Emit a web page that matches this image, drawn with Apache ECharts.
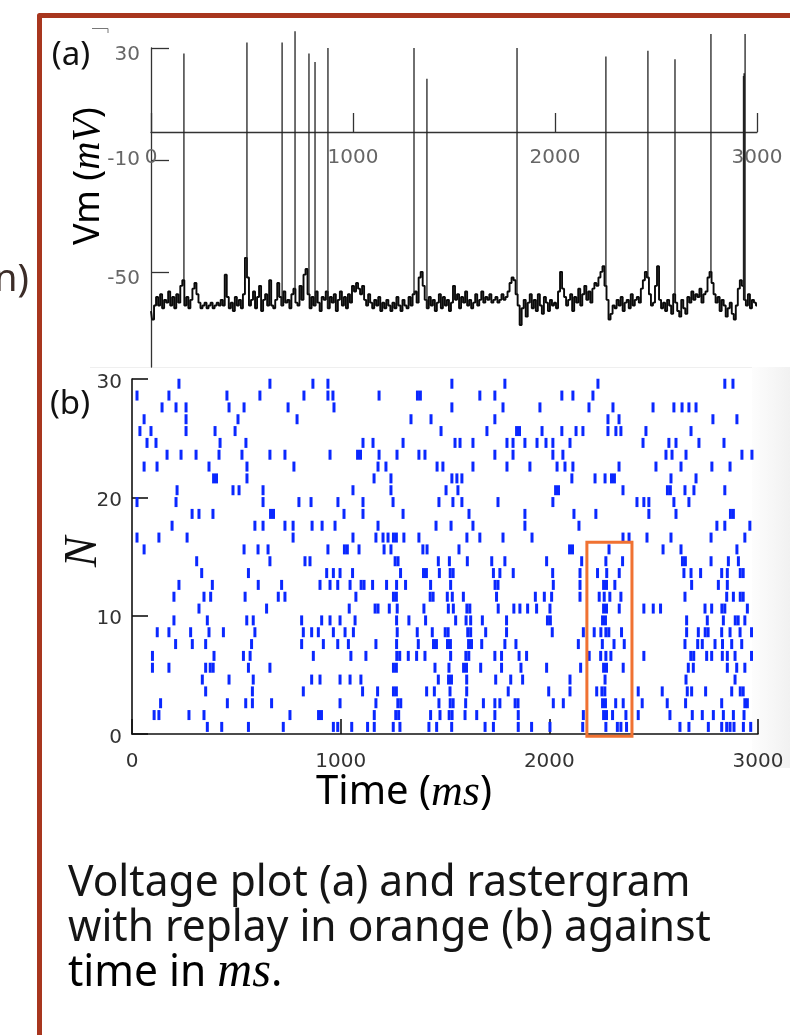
<!DOCTYPE html>
<html>
<head>
<meta charset="utf-8">
<script src="https://cdn.jsdelivr.net/npm/echarts@6/dist/echarts.min.js"></script>
<style>
  html, body { margin: 0; padding: 0; background: #fff; }
  #chart { width: 790px; height: 1035px; }
</style>
</head>
<body>
<div id="chart"></div>
<script>
// (a) membrane potential, one sample every 10 ms from 0 to 3000 ms
const vmStepMs = 10;
const vmBase = [
  -64, -67, -62, -59, -62, -58, -63, -60, -61, -57,
  -62, -59, -63, -58, -61, -55, -53, -62, -59, -63,
  -60, -56, -54, -58, -61, -63, -62, -61, -63, -62,
  -61, -63, -62, -61, -62, -60, -62, -51, -59, -63,
  -61, -64, -59, -62, -60, -63, -58, -45, -52, -62,
  -60, -57, -63, -59, -55, -64, -60, -58, -62, -53,
  -62, -63, -60, -54, -59, -62, -57, -61, -60, -63,
  -58, -56, -61, -62, -55, -60, -51, -49, -58, -63,
  -59, -62, -57, -61, -64, -59, -60, -57, -63, -59,
  -61, -58, -64, -60, -57, -62, -59, -63, -58, -61,
  -55, -57, -54, -56, -58, -55, -60, -62, -58, -61,
  -63, -60, -62, -59, -64, -61, -63, -60, -62, -64,
  -61, -63, -59, -62, -64, -60, -62, -63, -59, -62,
  -58, -57, -61, -52, -50, -55, -60, -63, -59, -62,
  -60, -64, -61, -58, -63, -59, -62, -60, -64, -61,
  -55, -60, -58, -63, -59, -61, -57, -62, -60, -63,
  -61, -58, -62, -60, -57, -61, -59, -60, -58, -61,
  -60, -59, -61, -60, -58, -60, -59, -57, -54, -52,
  -53, -58, -62, -69, -63, -60, -66, -61, -58, -63,
  -60, -64, -58, -62, -65, -59, -61, -64, -60, -62,
  -61, -63, -57, -50, -56, -59, -62, -60, -58, -64,
  -59, -61, -56, -62, -58, -55, -60, -57, -61, -56,
  -54, -55, -52, -50, -48, -55, -60, -67, -65, -62,
  -63, -60, -62, -59, -64, -61, -60, -63, -58, -62,
  -60, -59, -61, -56, -53, -50, -52, -58, -62, -61,
  -55, -48, -60, -63, -61, -64, -60, -62, -65, -58,
  -61, -64, -66, -60, -63, -65, -59, -61, -57, -60,
  -58, -59, -56, -61, -58, -57, -52, -50, -54, -58,
  -61, -59, -64, -60, -62, -66, -63, -61, -65, -67,
  -62, -56, -53, -55, -60, -62, -58, -63, -60, -61,
  -62
];
const spikeTimes = [163, 475, 649, 713, 782, 812, 876, 1302, 1366, 1812, 2252, 2460, 2594, 2772, 2933, 2936, 2941];
const spikePeaks = [28, 32, 32, 36, 28, 25, 30, 30, 19, 30, 27, 29, 26, 35, 20, 21, 35];
const vmTicks = [30, -10, -50];

// (b) spike times (ms) of neurons 1..30
const rasterRows = [
  [361, 430, 558, 725, 965, 986, 1053, 1129, 1161, 1252, 1284, 1423, 1460, 1532, 1692, 1732, 1851, 1915, 2003, 2160, 2271, 2326, 2343, 2370, 2626, 2669, 2762, 2826, 2850, 2866, 2885, 2930, 2965],
  [106, 129, 273, 345, 757, 894, 908, 1161, 1264, 1278, 1431, 1476, 1520, 1534, 1596, 1652, 1739, 1851, 2163, 2260, 2274, 2303, 2367, 2426, 2578, 2685, 2733, 2786, 2834, 2882, 2933],
  [137, 457, 545, 577, 669, 997, 1169, 1274, 1288, 1471, 1525, 1539, 1599, 1684, 1739, 1763, 1836, 1850, 2019, 2067, 2255, 2269, 2318, 2354, 2445, 2565, 2653, 2826, 2937, 2949],
  [353, 577, 821, 1105, 1177, 1253, 1267, 1412, 1449, 1524, 1604, 1803, 1997, 2099, 2227, 2252, 2266, 2426, 2541, 2661, 2682, 2749, 2874, 2915, 2929],
  [337, 465, 581, 861, 901, 997, 1045, 1097, 1468, 1517, 1531, 1604, 1743, 1815, 1872, 2099, 2267, 2655, 2890],
  [98, 177, 353, 375, 389, 558, 661, 1253, 1267, 1452, 1519, 1589, 1603, 1671, 1771, 1864, 1987, 2150, 2260, 2274, 2354, 2666, 2690, 2853, 2898, 2937],
  [98, 393, 534, 566, 869, 1049, 1121, 1269, 1283, 1324, 1364, 1404, 1527, 1600, 1614, 1739, 1771, 1855, 1891, 2191, 2246, 2271, 2295, 2453, 2678, 2692, 2754, 2778, 2829, 2853, 2890, 2969],
  [209, 289, 353, 573, 813, 917, 986, 1037, 1169, 1268, 1372, 1445, 1459, 1512, 1526, 1613, 1627, 1676, 1787, 1840, 2139, 2254, 2310, 2359, 2650, 2711, 2733, 2794, 2830, 2874, 2922],
  [121, 177, 281, 369, 438, 589, 821, 861, 893, 965, 1021, 1061, 1271, 1367, 1439, 1501, 1515, 1609, 1623, 1695, 1795, 2014, 2163, 2215, 2247, 2271, 2285, 2346, 2658, 2714, 2747, 2761, 2826, 2866, 2914, 2969],
  [201, 361, 550, 581, 813, 909, 949, 997, 1069, 1268, 1327, 1407, 1551, 1601, 1623, 1679, 1795, 1991, 2005, 2255, 2269, 2658, 2757, 2834, 2891, 2905, 2937],
  [321, 645, 1041, 1165, 1179, 1233, 1271, 1399, 1516, 1540, 1605, 1619, 1755, 1830, 1859, 1896, 1939, 2003, 2260, 2274, 2335, 2453, 2498, 2533, 2746, 2778, 2827, 2841, 2949],
  [201, 345, 377, 542, 701, 733, 1073, 1253, 1267, 1429, 1443, 1511, 1535, 1588, 1747, 1933, 1976, 2011, 2147, 2239, 2263, 2290, 2343, 2650, 2850, 2882, 2915, 2929],
  [225, 385, 605, 717, 901, 949, 986, 1045, 1098, 1112, 1153, 1220, 1268, 1311, 1431, 1527, 1740, 1754, 2019, 2147, 2260, 2274, 2314, 2682, 2810, 2853],
  [334, 558, 933, 965, 997, 1057, 1287, 1397, 1411, 1473, 1525, 1539, 1732, 1763, 1827, 2016, 2147, 2231, 2275, 2335, 2645, 2679, 2725, 2826, 2853, 2915, 2929],
  [310, 661, 829, 853, 1261, 1275, 1468, 1521, 1607, 1724, 1787, 1987, 2155, 2271, 2351, 2638, 2652, 2775, 2858, 2906],
  [58, 537, 604, 652, 939, 1018, 1032, 1088, 1208, 1241, 1394, 1414, 1567, 2097, 2111, 2286, 2545, 2631, 2899],
  [24, 129, 264, 772, 1059, 1169, 1203, 1227, 1253, 1267, 1303, 1375, 1605, 1667, 1778, 1917, 2353, 2382, 2468, 2583, 2775, 2937],
  [192, 589, 628, 733, 772, 863, 911, 973, 1179, 1457, 1529, 1634, 1883, 2142, 2803, 2841, 2961],
  [288, 321, 388, 664, 678, 1016, 1107, 1299, 1615, 1883, 2118, 2223, 2477, 2607, 2868, 2882],
  [24, 211, 628, 800, 858, 987, 1107, 1251, 1471, 1538, 1581, 1754, 2017, 2420, 2453, 2477, 2597, 2669],
  [216, 484, 513, 628, 1059, 1241, 1505, 1562, 2030, 2044, 2353, 2566, 2580, 2650, 2693, 2841],
  [391, 405, 551, 1160, 1241, 1533, 1557, 1581, 2108, 2219, 2267, 2298, 2312, 2583, 2703],
  [58, 120, 369, 551, 776, 1179, 1217, 1462, 1490, 1634, 1797, 1907, 2037, 2075, 2113, 2334, 2511, 2631, 2779, 2866],
  [168, 235, 307, 417, 527, 661, 733, 949, 1081, 1095, 1184, 1270, 1375, 1404, 1739, 1826, 2017, 2065, 2559, 2588, 2655, 2923, 2971],
  [72, 115, 422, 546, 1107, 1155, 1299, 1548, 1572, 1634, 1797, 1826, 1883, 1941, 1984, 2017, 2099, 2449, 2573, 2607, 2717, 2837],
  [38, 91, 259, 398, 494, 1481, 1701, 1843, 1857, 1965, 2060, 2128, 2161, 2281, 2319, 2343, 2463, 2679],
  [58, 259, 508, 791, 1337, 1433, 1739, 2281, 2334, 2784, 2899],
  [144, 211, 259, 465, 537, 748, 968, 1533, 1778, 1955, 2190, 2305, 2497, 2597, 2636, 2669, 2703],
  [24, 177, 455, 613, 824, 939, 963, 1184, 1368, 1382, 1667, 1739, 2060, 2113, 2209],
  [225, 661, 867, 939, 1533, 1787, 2233, 2841, 2880]
];
// replay window drawn in orange
const replayTime = [2180, 2396];
const replayNeurons = [-0.2, 16.2];

const vmPoints = vmBase.map((v, i) => [i * vmStepMs, v]);
const spikeLines = [];
spikeTimes.forEach((t, k) => {
  const base = vmBase[Math.round(t / vmStepMs)];
  spikeLines.push([t, base], [t, spikePeaks[k]], [t, null]);
});

const rasterPoints = [];
rasterRows.forEach((row, i) => {
  row.forEach(t => rasterPoints.push([t, i + 1 - 0.4]));
});

const tickFont = 'DejaVu Sans';
const sans = '"Noto Sans", sans-serif';
const serif = '"Liberation Serif", serif';
const plain = v => String(v);

const chart = echarts.init(document.getElementById('chart'), null, { renderer: 'canvas' });

const option = {
  animation: false,
  backgroundColor: '#fff',
  grid: [
    { left: 151, top: 48, width: 606, height: 319 },
    { left: 132, top: 379, width: 626, height: 355 }
  ],
  xAxis: [
    {
      // sits on Vm = 0
      gridIndex: 0, type: 'value', min: 0, max: 3000, interval: 1000, offset: -235,
      axisLine: { show: true, onZero: false, lineStyle: { color: '#333', width: 1.3 } },
      axisTick: { show: true, inside: true, length: 19, lineStyle: { color: '#333', width: 1.3 } },
      axisLabel: { show: true, margin: 16, fontSize: 20, fontFamily: tickFont, color: '#666', formatter: plain },
      splitLine: { show: false }
    },
    {
      gridIndex: 1, type: 'value', min: 0, max: 3000, interval: 1000,
      axisLine: { show: true, onZero: false, lineStyle: { color: '#111', width: 1.6 } },
      axisTick: { show: true, inside: true, length: 15, lineStyle: { color: '#111', width: 1.6 } },
      axisLabel: { show: true, margin: 18, fontSize: 20, fontFamily: tickFont, color: '#333', formatter: plain },
      splitLine: { show: false }
    }
  ],
  yAxis: [
    {
      gridIndex: 0, type: 'value', min: -84, max: 30,
      axisLine: { show: true, onZero: false, lineStyle: { color: '#333', width: 1.3 } },
      axisTick: { show: true, inside: true, length: 18, customValues: vmTicks, lineStyle: { color: '#333', width: 1.3 } },
      axisLabel: {
        show: true, customValues: vmTicks, margin: 11,
        formatter: v => (v === -10 ? '{m|' + v + '}' : '{t|' + v + '}'),
        rich: {
          t: { fontSize: 20, fontFamily: tickFont, color: '#666', padding: [14, 0, 0, 0] },
          m: { fontSize: 20, fontFamily: tickFont, color: '#666' }
        }
      },
      splitLine: { show: false }
    },
    {
      gridIndex: 1, type: 'value', min: 0, max: 30, interval: 10,
      axisLine: { show: true, onZero: false, lineStyle: { color: '#111', width: 1.6 } },
      axisTick: { show: true, inside: true, length: 16, lineStyle: { color: '#111', width: 1.6 } },
      axisLabel: {
        show: true, margin: 10,
        formatter: v => '{t|' + v + '}',
        rich: { t: { fontSize: 20, fontFamily: tickFont, color: '#333', padding: [7, 0, 0, 0] } }
      },
      splitLine: { show: false }
    }
  ],
  series: [
    {
      type: 'line', xAxisIndex: 0, yAxisIndex: 0,
      data: vmPoints, showSymbol: false, step: 'middle',
      lineStyle: { color: '#0a0a0a', width: 1.9 }
    },
    {
      type: 'line', xAxisIndex: 0, yAxisIndex: 0,
      data: spikeLines, showSymbol: false, clip: false, connectNulls: false,
      lineStyle: { color: '#222', width: 1.3 }
    },
    {
      type: 'scatter', xAxisIndex: 1, yAxisIndex: 1,
      data: rasterPoints, symbol: 'rect', symbolSize: [3, 10],
      itemStyle: { color: '#0a28ff', opacity: 1 }
    },
    {
      type: 'custom', xAxisIndex: 1, yAxisIndex: 1, z: 5, clip: false,
      data: [[replayTime[0], replayTime[1], replayNeurons[0], replayNeurons[1]]],
      renderItem: (params, api) => {
        const p0 = api.coord([api.value(0), api.value(3)]);
        const p1 = api.coord([api.value(1), api.value(2)]);
        return {
          type: 'rect',
          shape: { x: p0[0], y: p0[1], width: p1[0] - p0[0], height: p1[1] - p0[1] },
          style: { fill: 'none', stroke: '#f07232', lineWidth: 3 }
        };
      }
    }
  ],
  graphic: [
    // faint edge of the pasted raster picture
    {
      type: 'rect', z: -10, silent: true,
      shape: { x: 752, y: 367, width: 38, height: 401 },
      style: {
        fill: { type: 'linear', x: 0, y: 0, x2: 1, y2: 0, colorStops: [{ offset: 0, color: '#fdfdfd' }, { offset: 1, color: '#f1f1f1' }] }
      }
    },
    { type: 'line', silent: true, shape: { x1: 90, y1: 367.5, x2: 752, y2: 367.5 }, style: { stroke: '#efefef', lineWidth: 1 } },
    // slide frame
    {
      type: 'polyline', silent: true,
      shape: { points: [[39.5, 1035], [39.5, 15.5], [790, 15.5]] },
      style: { stroke: '#a8361e', lineWidth: 5, fill: null, lineJoin: 'round' }
    },
    {
      type: 'polyline', silent: true,
      shape: { points: [[92, 28.5], [108, 28.5], [108, 33]] },
      style: { stroke: '#777', lineWidth: 1, fill: null }
    },
    {
      type: 'text', x: 29, y: 280, silent: true,
      style: { text: 'n)', font: '38px ' + sans, fill: '#3c2d28', align: 'right', textAlign: 'right', verticalAlign: 'middle', textVerticalAlign: 'middle' }
    },
    {
      type: 'text', x: 71, y: 56, silent: true,
      style: { text: '(a)', font: '33px ' + sans, fill: '#111', align: 'center', textAlign: 'center', verticalAlign: 'middle', textVerticalAlign: 'middle' }
    },
    {
      type: 'text', x: 70, y: 405, silent: true,
      style: { text: '(b)', font: '33px ' + sans, fill: '#111', align: 'center', textAlign: 'center', verticalAlign: 'middle', textVerticalAlign: 'middle' }
    },
    {
      type: 'text', x: 89, y: 176, rotation: Math.PI / 2, silent: true,
      style: {
        text: '{r|Vm (}{i|mV}{r|)}',
        align: 'center', textAlign: 'center', verticalAlign: 'middle', textVerticalAlign: 'middle',
        rich: {
          r: { fontSize: 36, fontFamily: sans, color: '#111' },
          i: { fontSize: 39, fontFamily: serif, fontStyle: 'italic', color: '#111' }
        }
      }
    },
    {
      type: 'text', x: 84, y: 552, rotation: Math.PI / 2, silent: true,
      style: { text: 'N', font: 'italic 46px ' + serif, fill: '#111', align: 'center', textAlign: 'center', verticalAlign: 'middle', textVerticalAlign: 'middle' }
    },
    {
      type: 'text', x: 404, y: 793, silent: true,
      style: {
        text: '{r|Time (}{i|ms}{r|)}',
        align: 'center', textAlign: 'center', verticalAlign: 'middle', textVerticalAlign: 'middle',
        rich: {
          r: { fontSize: 40, fontFamily: sans, color: '#111' },
          i: { fontSize: 44, fontFamily: serif, fontStyle: 'italic', color: '#111' }
        }
      }
    },
    {
      type: 'text', x: 68, y: 883, scaleX: 0.966, silent: true,
      style: { text: 'Voltage plot (a) and rastergram', font: '44px ' + sans, fill: '#151515', verticalAlign: 'middle', textVerticalAlign: 'middle' }
    },
    {
      type: 'text', x: 68, y: 928, scaleX: 0.966, silent: true,
      style: { text: 'with replay in orange (b) against', font: '44px ' + sans, fill: '#151515', verticalAlign: 'middle', textVerticalAlign: 'middle' }
    },
    {
      type: 'text', x: 68, y: 973, scaleX: 0.966, silent: true,
      style: {
        text: '{r|time in }{i|ms}{r|.}',
        verticalAlign: 'middle', textVerticalAlign: 'middle',
        rich: {
          r: { fontSize: 44, fontFamily: sans, color: '#151515' },
          i: { fontSize: 50, fontFamily: serif, fontStyle: 'italic', color: '#151515' }
        }
      }
    }
  ]
};

chart.setOption(option);
</script>
</body>
</html>
